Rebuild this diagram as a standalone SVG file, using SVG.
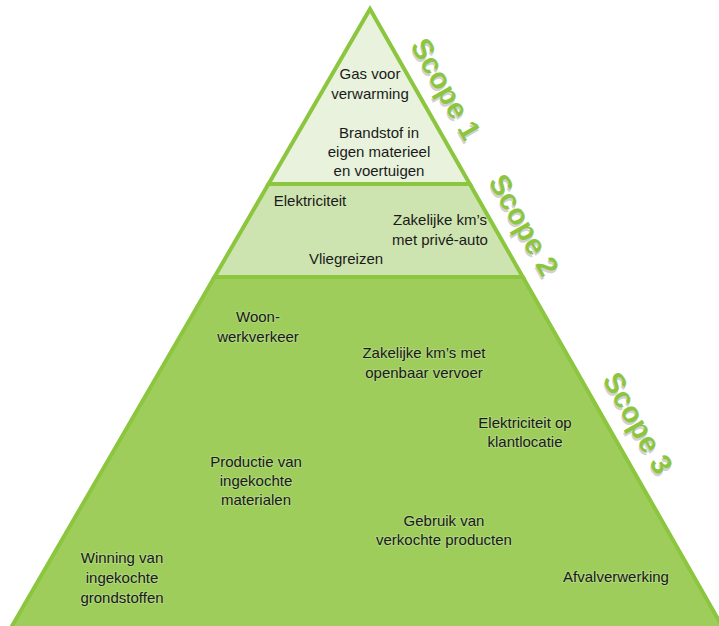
<svg xmlns="http://www.w3.org/2000/svg" width="719" height="626" viewBox="0 0 719 626">
<defs>
<style>
.sec{stroke:#8cc63f;stroke-width:4;stroke-linejoin:miter}
.lbl{font-family:"Liberation Sans",Arial,sans-serif;font-size:15px;fill:#1a1a1a;text-anchor:middle}
.lblb{paint-order:stroke;stroke:#b9dc8c;stroke-width:2px;stroke-opacity:0.6}
.scope{font-family:"Liberation Sans",Arial,sans-serif;font-size:29px;font-weight:bold;fill:#8cc63f;text-anchor:middle}
.shadow{fill:#9a9a9a;opacity:0.45}
</style>
</defs>
<rect width="719" height="626" fill="#ffffff"/>
<g id="pyramid">
<polygon id="scope3-section" class="sec" fill="#9ecd5c" points="214.5,277 522.8,277 730,640 3.9,640"/>
<polygon id="scope2-section" class="sec" fill="#cee4b0" points="268.5,184 469.8,184 522.8,277 214.5,277"/>
<polygon id="scope1-section" class="sec" fill="#e8f2dc" points="370,9 469.8,184 268.5,184"/>
</g>
<g id="scope-labels">
<g id="scope1" transform="translate(446,89) rotate(60.5)">
<text class="scope shadow" x="2" y="12">Scope 1</text>
<text class="scope" x="0" y="10">Scope 1</text>
</g>
<g id="scope2" transform="translate(524,225) rotate(60.5)">
<text class="scope shadow" x="2" y="12">Scope 2</text>
<text class="scope" x="0" y="10">Scope 2</text>
</g>
<g id="scope3" transform="translate(638,423) rotate(60.5)">
<text class="scope shadow" x="2" y="12">Scope 3</text>
<text class="scope" x="0" y="10">Scope 3</text>
</g>
</g>
<g id="connectors"/>
<g id="scope1-items">
<g id="gas"><text class="lbl" x="370" y="79">Gas voor</text><text class="lbl" x="370" y="99">verwarming</text></g>
<g id="brandstof"><text class="lbl" x="379" y="138">Brandstof in</text><text class="lbl" x="379" y="157">eigen materieel</text><text class="lbl" x="379" y="176">en voertuigen</text></g>
</g>
<g id="scope2-items">
<g id="elektriciteit"><text class="lbl" x="310" y="206">Elektriciteit</text></g>
<g id="zakelijk-prive"><text class="lbl" x="440" y="225">Zakelijke km’s</text><text class="lbl" x="440" y="245">met privé-auto</text></g>
<g id="vliegreizen"><text class="lbl" x="346" y="264">Vliegreizen</text></g>
</g>
<g id="scope3-items">
<g id="woon"><text class="lbl lblb" x="258" y="322">Woon-</text><text class="lbl lblb" x="258" y="342">werkverkeer</text></g>
<g id="zakelijk-ov"><text class="lbl lblb" x="424" y="358">Zakelijke km’s met</text><text class="lbl lblb" x="424" y="378">openbaar vervoer</text></g>
<g id="elek-klant"><text class="lbl lblb" x="525" y="428">Elektriciteit op</text><text class="lbl lblb" x="525" y="447">klantlocatie</text></g>
<g id="productie"><text class="lbl lblb" x="256" y="467">Productie van</text><text class="lbl lblb" x="256" y="486">ingekochte</text><text class="lbl lblb" x="256" y="505">materialen</text></g>
<g id="gebruik"><text class="lbl lblb" x="444" y="526">Gebruik van</text><text class="lbl lblb" x="444" y="545">verkochte producten</text></g>
<g id="winning"><text class="lbl lblb" x="122" y="563">Winning van</text><text class="lbl lblb" x="122" y="583">ingekochte</text><text class="lbl lblb" x="122" y="603">grondstoffen</text></g>
<g id="afval"><text class="lbl lblb" x="616" y="582">Afvalverwerking</text></g>
</g>
</svg>
